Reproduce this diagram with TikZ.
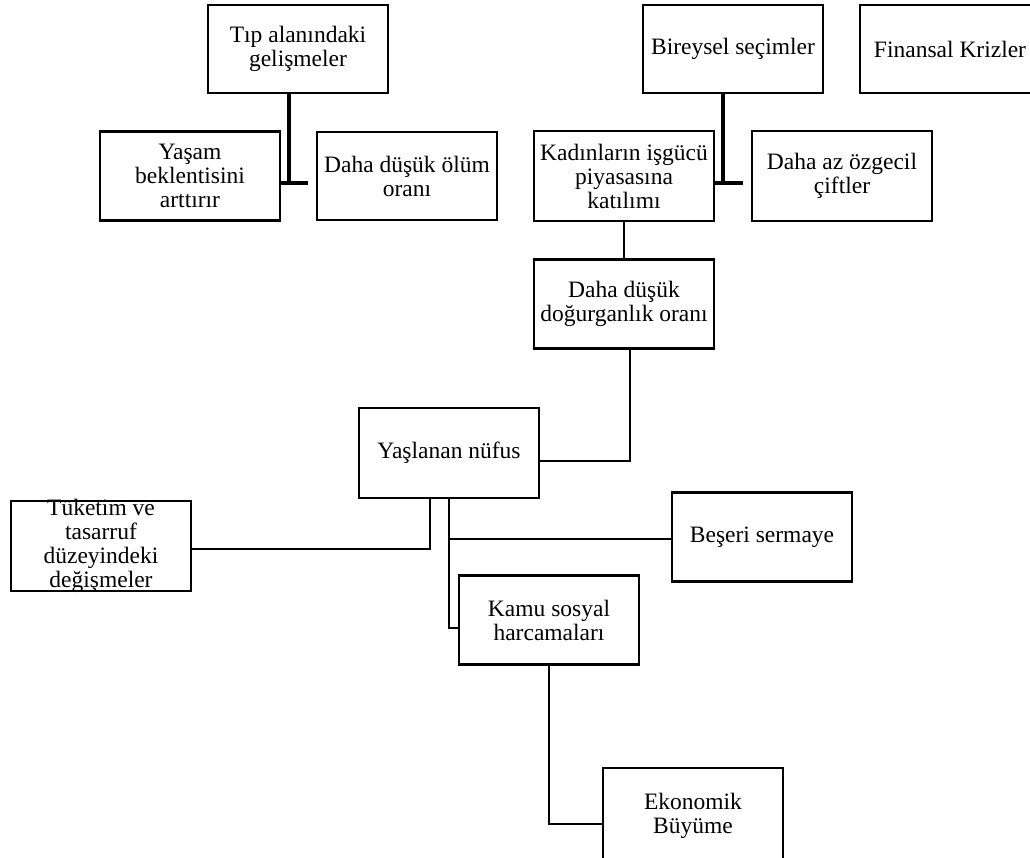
\documentclass[tikz,border=0pt]{standalone}
\usepackage{fontspec}
\setmainfont{Liberation Serif}
\usepackage{tikz}

\begin{document}
\begin{tikzpicture}[x=1pt,y=-1pt,
  box/.style={draw=black,line width=2.6pt,minimum width=180pt,minimum height=89pt,
    inner xsep=0pt,inner ysep=0pt,align=center,font=\fontsize{23.5}{24}\selectfont},
  link/.style={-,color=black,line width=2.3pt},
  branch/.style={-,color=black,line width=4pt}]
\useasboundingbox (0,0) rectangle (1030,857);

% top row
\node[box,minimum height=88pt] (tip) at (298,49) {Tıp alanındaki\\gelişmeler};
\node[box,minimum height=88pt] (bireysel) at (733,49) {Bireysel seçimler};
\node[box,minimum height=88pt] (finansal) at (950,49) {Finansal Krizler};

% second row
\node[box] (yasam) at (190,176) {Yaşam\\beklentisini\\arttırır};
\node[box,minimum height=88pt] (olum) at (407,176) {Daha düşük ölüm\\oranı};
\node[box,minimum height=90pt] (kadin) at (624,176) {Kadınların işgücü\\piyasasına\\katılımı};
\node[box,minimum height=90pt] (ozgecil) at (842,176) {Daha az özgecil\\çiftler};

% middle
\node[box] (dogurgan) at (624,304) {Daha düşük\\doğurganlık oranı};
\node[box,minimum height=90pt] (yaslanan) at (449,453) {Yaşlanan nüfus};
\node[box,minimum height=90pt,inner ysep=-4pt] (tuketim) at (101,546) {Tüketim ve\\tasarruf\\düzeyindeki\\değişmeler};
\node[box] (beseri) at (762,537) {Beşeri sermaye};
\node[box] (kamu) at (549,620) {Kamu sosyal\\harcamaları};
\node[box,minimum height=96pt] (ekonomik) at (693,816) {Ekonomik\\Büyüme};

% T branches
\coordinate (tipj) at (289,183);
\coordinate (tipend) at (308,183);
\draw[branch] ([xshift=-9pt]tip.south) -- (tipj);
\draw[branch] (tipj -| yasam.east) -- (tipend);
\coordinate (birj) at (723,183);
\coordinate (birend) at (743,183);
\draw[branch] ([xshift=-10pt]bireysel.south) -- (birj);
\draw[branch] (birj -| kadin.east) -- (birend);

% links
\draw[link] (kadin.south) -- (dogurgan.north);
\draw[link] ([xshift=6pt]dogurgan.south) |- ([yshift=-8pt]yaslanan.east);
\draw[link] ([xshift=-19pt]yaslanan.south) |- ([yshift=-3pt]tuketim.east);
\draw[link] (yaslanan.south) |- ([yshift=-2pt]beseri.west);
\draw[link] (yaslanan.south) |- ([yshift=-8pt]kamu.west);
\draw[link] (kamu.south) |- ([yshift=-8pt]ekonomik.west);
\end{tikzpicture}
\end{document}
